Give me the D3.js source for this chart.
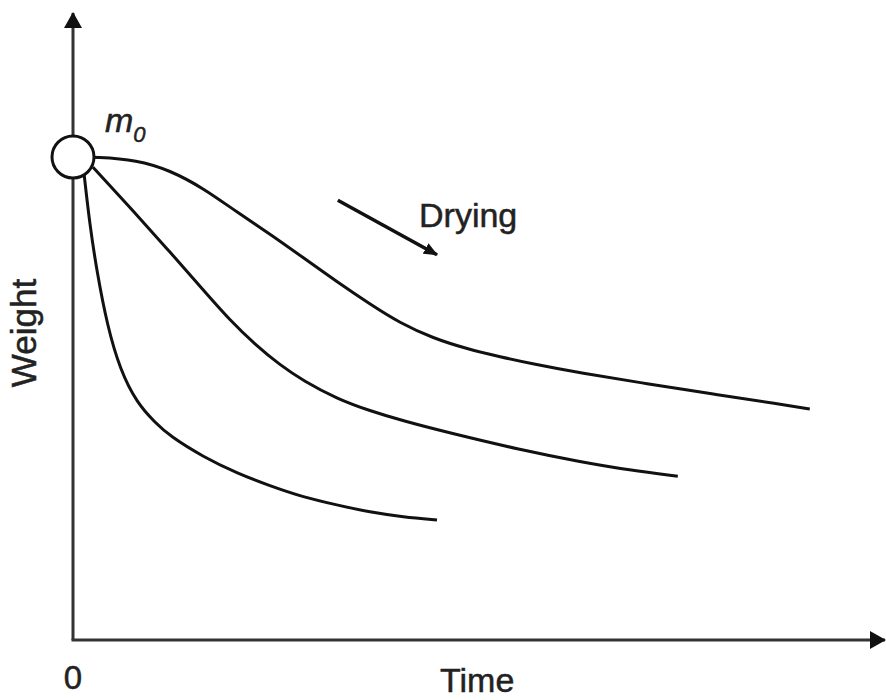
<!DOCTYPE html>
<html>
<head>
<meta charset="utf-8">
<script src="https://cdn.jsdelivr.net/npm/d3@7"></script>
<style>
  body { margin: 0; background: #fff; }
  text { font-family: "Liberation Sans", Arial, sans-serif; fill: #222; stroke: #222; stroke-width: 0.5px; }
</style>
</head>
<body>
<div class="chart"></div>
<script>
// starting weight, shared by all curves
var m0 = { time: 0, weight: 80.5 };

// slowest drying (top curve)
var slowTime   = [0, 3, 8, 12.1, 16.3, 20.5, 24.6, 28.8, 33, 37.1, 40.9, 45, 49.3, 53.4, 57.5, 63.4, 71.8, 80, 88.4, 92.1];
var slowWeight = [80.5, 80.5, 80, 78.3, 75.3, 71.3, 67.7, 63.7, 59.7, 56, 52.8, 50.3, 48.5, 47.2, 46, 44.5, 42.7, 41, 39.3, 38.5];

// middle curve
var midTime   = [2.5, 8, 12.1, 16.3, 19.6, 22.8, 25.9, 28.8, 33, 37.1, 41.3, 47.1, 55.9, 63.4, 69.6, 75.6];
var midWeight = [78.8, 70.8, 64.7, 58.3, 53.3, 49.2, 45.8, 43.2, 40.2, 38.2, 36.5, 34.5, 31.7, 29.7, 28.3, 27.3];

// fastest drying (bottom curve)
var fastTime   = [1.4, 2.1, 3, 4.3, 5.9, 8, 10.3, 12.1, 16.3, 20.5, 24.6, 28.8, 33, 37.1, 41.3, 45.5];
var fastWeight = [77.5, 69.2, 61.3, 52.3, 45, 39.5, 36.2, 34, 30.5, 27.8, 25.7, 23.8, 22.5, 21.3, 20.5, 20];

// "Drying" arrow, in data units
var dryingFrom = { time: 33.1, weight: 73.3 };
var dryingTo   = { time: 45.5, weight: 64.2 };

var width = 886, height = 700;

var x = d3.scaleLinear().domain([0, 100]).range([73, 873]);
var y = d3.scaleLinear().domain([0, 100]).range([640, 40]);

var svg = d3.select(".chart").append("svg")
    .attr("width", width)
    .attr("height", height);

var defs = svg.append("defs");

defs.append("marker")
    .attr("id", "axisHead")
    .attr("viewBox", "0 0 16 18")
    .attr("refX", 15).attr("refY", 9)
    .attr("markerWidth", 16).attr("markerHeight", 18)
    .attr("markerUnits", "userSpaceOnUse")
    .attr("orient", "auto")
    .append("path").attr("d", "M0,0L16,9L0,18Z").attr("fill", "#111");

defs.append("marker")
    .attr("id", "smallHead")
    .attr("viewBox", "0 0 14 12")
    .attr("refX", 13).attr("refY", 6)
    .attr("markerWidth", 14).attr("markerHeight", 12)
    .attr("markerUnits", "userSpaceOnUse")
    .attr("orient", "auto")
    .append("path").attr("d", "M0,0L14,6L0,12Z").attr("fill", "#111");

// axes
svg.append("line")
    .attr("x1", x(0)).attr("y1", y(0))
    .attr("x2", x(0)).attr("y2", 13)
    .attr("stroke", "#333").attr("stroke-width", 3)
    .attr("marker-end", "url(#axisHead)");

svg.append("line")
    .attr("x1", x(0) - 1.5).attr("y1", y(0))
    .attr("x2", 885).attr("y2", y(0))
    .attr("stroke", "#333").attr("stroke-width", 3)
    .attr("marker-end", "url(#axisHead)");

// curves
var line = d3.line()
    .x(function(d) { return x(d[0]); })
    .y(function(d) { return y(d[1]); })
    .curve(d3.curveBasis);

var curves = [
  d3.zip(slowTime, slowWeight),
  d3.zip(midTime, midWeight),
  d3.zip(fastTime, fastWeight)
];

svg.selectAll(".curve")
    .data(curves)
    .enter().append("path")
    .attr("class", "curve")
    .attr("d", line)
    .attr("fill", "none")
    .attr("stroke", "#111")
    .attr("stroke-width", 3);

// starting point
svg.append("circle")
    .attr("cx", x(m0.time)).attr("cy", y(m0.weight))
    .attr("r", 21)
    .attr("fill", "#fff")
    .attr("stroke", "#111")
    .attr("stroke-width", 3);

var m0Label = svg.append("text")
    .attr("x", x(m0.time) + 32).attr("y", y(m0.weight) - 25)
    .attr("font-size", "34px")
    .attr("font-style", "italic");
m0Label.append("tspan").text("m");
m0Label.append("tspan").attr("font-size", "22px").attr("dy", 10).text("0");

// drying arrow
svg.append("line")
    .attr("x1", x(dryingFrom.time)).attr("y1", y(dryingFrom.weight))
    .attr("x2", x(dryingTo.time)).attr("y2", y(dryingTo.weight))
    .attr("stroke", "#111").attr("stroke-width", 3.5)
    .attr("marker-end", "url(#smallHead)");

svg.append("text")
    .attr("x", 419).attr("y", 227)
    .attr("font-size", "34px")
    .text("Drying");

// axis labels
svg.append("text")
    .attr("x", x(0)).attr("y", 689)
    .attr("text-anchor", "middle")
    .attr("font-size", "33px")
    .text("0");

svg.append("text")
    .attr("x", 440).attr("y", 692)
    .attr("font-size", "34px")
    .text("Time");

svg.append("text")
    .attr("transform", "translate(36,333) rotate(-90)")
    .attr("text-anchor", "middle")
    .attr("font-size", "35px")
    .text("Weight");
</script>
</body>
</html>
